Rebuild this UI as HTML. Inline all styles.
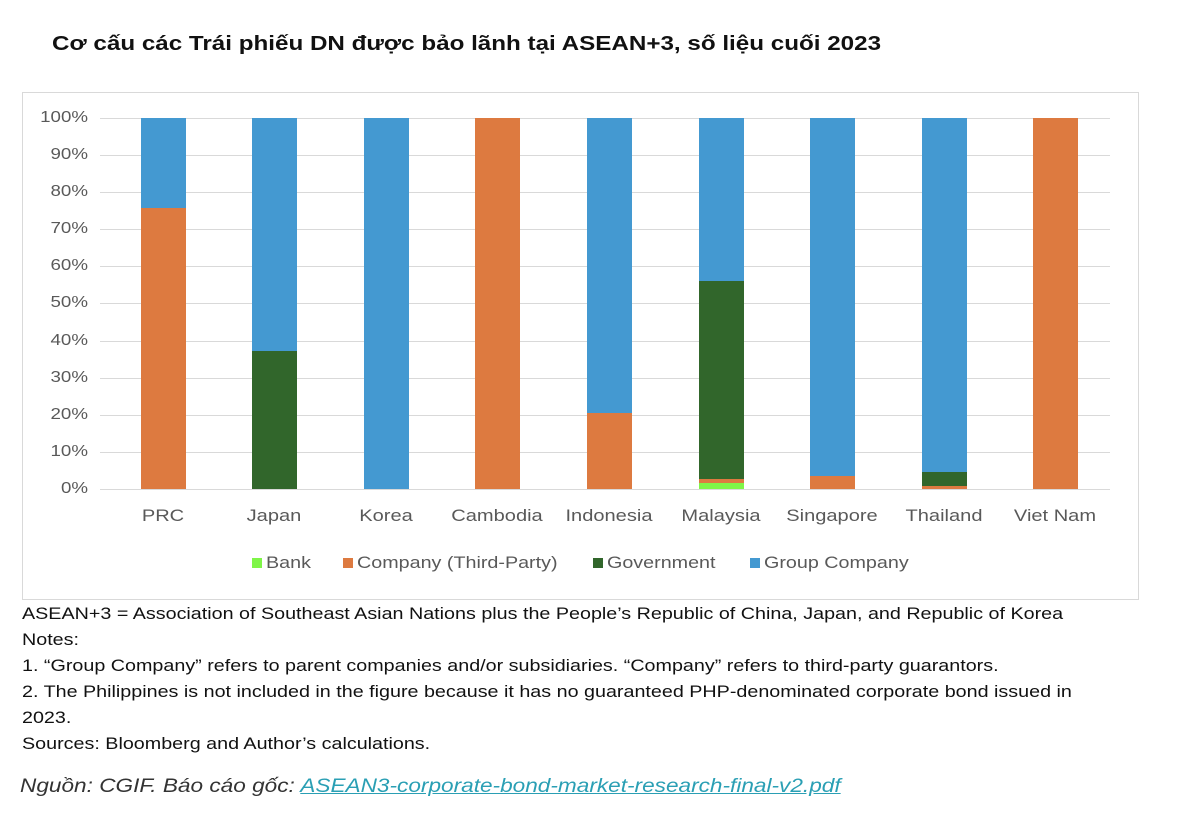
<!DOCTYPE html><html><head><style>
body{margin:0;width:1200px;height:827px;background:#fff;position:relative;font-family:"Liberation Sans",sans-serif;overflow:hidden}
.t{position:absolute;white-space:nowrap;transform:scaleX(1.16);transform-origin:left top}
.b{position:absolute;width:45px}
.g{position:absolute;left:100px;width:1010px;height:1px;background:#d9d9d9}
.yl{position:absolute;left:30px;width:58px;text-align:right;font-size:16px;color:#595959;transform:scaleX(1.17);transform-origin:right top}
.xl{position:absolute;top:506px;width:120px;text-align:center;font-size:17px;color:#595959;transform:scaleX(1.18)}
.n{font-size:17px;color:#111;left:22px}
</style></head><body>
<div class="t" style="left:52px;top:33px;font-size:20px;font-weight:bold;color:#111;transform:scaleX(1.21)">Cơ cấu các Trái phiếu DN được bảo lãnh tại ASEAN+3, số liệu cuối 2023</div>
<div style="position:absolute;left:22px;top:92px;width:1115px;height:506px;border:1px solid #d9d9d9"></div>
<div class="g" style="top:118px"></div><div class="g" style="top:155px"></div><div class="g" style="top:192px"></div><div class="g" style="top:229px"></div><div class="g" style="top:266px"></div><div class="g" style="top:303px"></div><div class="g" style="top:341px"></div><div class="g" style="top:378px"></div><div class="g" style="top:415px"></div><div class="g" style="top:452px"></div><div class="g" style="top:489px"></div>
<div class="yl" style="top:109px">100%</div><div class="yl" style="top:146px">90%</div><div class="yl" style="top:183px">80%</div><div class="yl" style="top:220px">70%</div><div class="yl" style="top:257px">60%</div><div class="yl" style="top:294px">50%</div><div class="yl" style="top:332px">40%</div><div class="yl" style="top:369px">30%</div><div class="yl" style="top:406px">20%</div><div class="yl" style="top:443px">10%</div><div class="yl" style="top:480px">0%</div>
<div class="b" style="left:141px;top:118px;height:90px;background:#4499d1"></div>
<div class="b" style="left:141px;top:208px;height:281px;background:#dd7a40"></div>
<div class="b" style="left:252px;top:118px;height:233px;background:#4499d1"></div>
<div class="b" style="left:252px;top:351px;height:138px;background:#31662b"></div>
<div class="b" style="left:364px;top:118px;height:371px;background:#4499d1"></div>
<div class="b" style="left:475px;top:118px;height:371px;background:#dd7a40"></div>
<div class="b" style="left:587px;top:118px;height:295px;background:#4499d1"></div>
<div class="b" style="left:587px;top:413px;height:76px;background:#dd7a40"></div>
<div class="b" style="left:699px;top:118px;height:163px;background:#4499d1"></div>
<div class="b" style="left:699px;top:281px;height:198px;background:#31662b"></div>
<div class="b" style="left:699px;top:479px;height:4px;background:#dd7a40"></div>
<div class="b" style="left:699px;top:483px;height:6px;background:#7ff548"></div>
<div class="b" style="left:810px;top:118px;height:358px;background:#4499d1"></div>
<div class="b" style="left:810px;top:476px;height:13px;background:#dd7a40"></div>
<div class="b" style="left:922px;top:118px;height:354px;background:#4499d1"></div>
<div class="b" style="left:922px;top:472px;height:14px;background:#31662b"></div>
<div class="b" style="left:922px;top:486px;height:3px;background:#dd7a40"></div>
<div class="b" style="left:1033px;top:118px;height:371px;background:#dd7a40"></div>
<div class="xl" style="left:103px">PRC</div><div class="xl" style="left:214px">Japan</div><div class="xl" style="left:326px">Korea</div><div class="xl" style="left:437px">Cambodia</div><div class="xl" style="left:549px">Indonesia</div><div class="xl" style="left:661px">Malaysia</div><div class="xl" style="left:772px">Singapore</div><div class="xl" style="left:884px">Thailand</div><div class="xl" style="left:995px">Viet Nam</div>
<div style="position:absolute;top:558px;left:252px;width:10px;height:10px;background:#7ff548"></div><div class="t" style="top:553px;left:266px;font-size:17px;color:#595959">Bank</div>
<div style="position:absolute;top:558px;left:343px;width:10px;height:10px;background:#dd7a40"></div><div class="t" style="top:553px;left:357px;font-size:17px;color:#595959">Company (Third-Party)</div>
<div style="position:absolute;top:558px;left:593px;width:10px;height:10px;background:#31662b"></div><div class="t" style="top:553px;left:607px;font-size:17px;color:#595959">Government</div>
<div style="position:absolute;top:558px;left:750px;width:10px;height:10px;background:#4499d1"></div><div class="t" style="top:553px;left:764px;font-size:17px;color:#595959">Group Company</div>
<div class="t n" style="top:604px">ASEAN+3 = Association of Southeast Asian Nations plus the People’s Republic of China, Japan, and Republic of Korea</div>
<div class="t n" style="top:630px">Notes:</div>
<div class="t n" style="top:656px">1. “Group Company” refers to parent companies and/or subsidiaries. “Company” refers to third-party guarantors.</div>
<div class="t n" style="top:682px">2. The Philippines is not included in the figure because it has no guaranteed PHP-denominated corporate bond issued in</div>
<div class="t n" style="top:708px">2023.</div>
<div class="t n" style="top:734px">Sources: Bloomberg and Author’s calculations.</div>
<div class="t" style="left:20px;top:776px;font-size:19px;font-style:italic;color:#333;transform:scaleX(1.19)">Nguồn: CGIF. Báo cáo gốc: <span style="color:#2a9fb4;text-decoration:underline">ASEAN3-corporate-bond-market-research-final-v2.pdf</span></div>
</body></html>
